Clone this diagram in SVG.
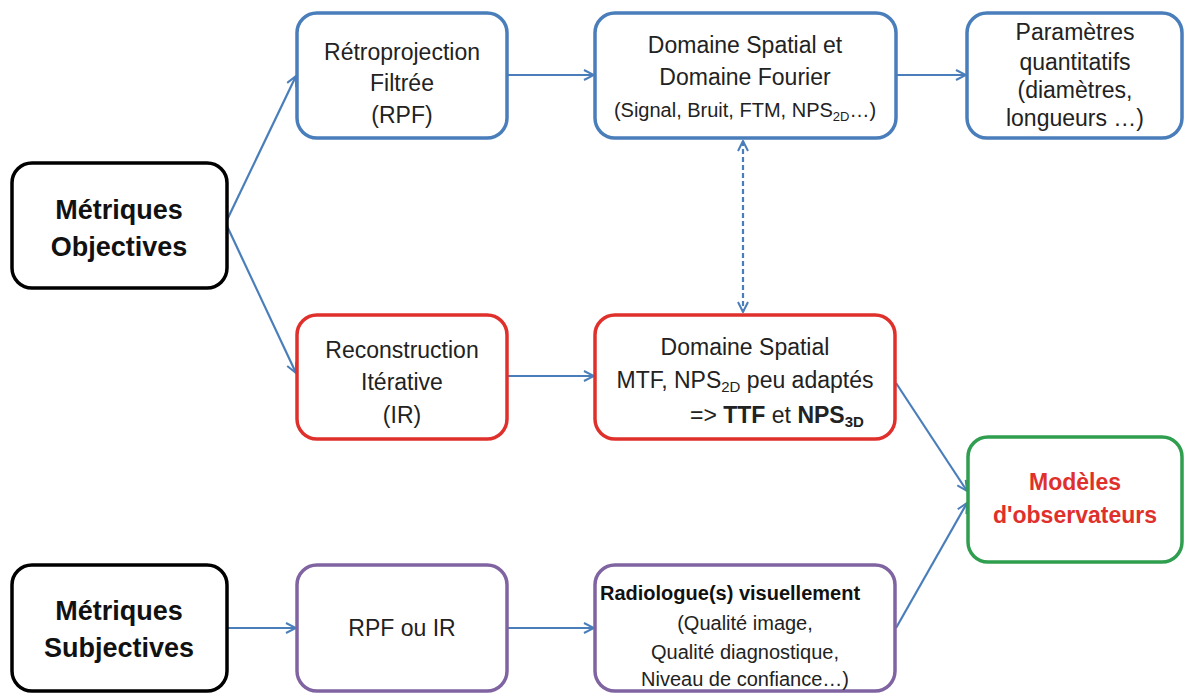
<svg xmlns="http://www.w3.org/2000/svg" width="1192" height="695" viewBox="0 0 1192 695">
<defs>
<style>
.box{fill:#fff;stroke-width:3.5}
.b{stroke:#4a7ebb}
.r{stroke:#e0302c}
.p{stroke:#8064a2}
.g{stroke:#2f9e4f}
.k{stroke:#000}
text{font-family:"Liberation Sans",Arial,sans-serif;fill:#222;text-anchor:middle}
text.st{text-anchor:start}
.t{font-size:23px}
.s{font-size:20px}
.big{font-size:27px;font-weight:bold;fill:#111}
.mod{font-size:23px;font-weight:bold;fill:#e0302c}
.rad{font-size:20px;font-weight:bold;fill:#111}
.con{stroke:#4a7ebb;stroke-width:2.2;fill:none}
</style>
<marker id="ah" viewBox="0 0 12 12" refX="11" refY="6" markerWidth="12" markerHeight="12" markerUnits="userSpaceOnUse" orient="auto-start-reverse">
<path d="M1,1 L11,6 L1,11" fill="none" stroke="#4a7ebb" stroke-width="2"/>
</marker>
</defs>
<rect width="1192" height="695" fill="#fff"/>

<g id="connectors">
<line class="con" x1="227" y1="220" x2="296" y2="76" marker-end="url(#ah)"/>
<line class="con" x1="227" y1="226" x2="296" y2="373" marker-end="url(#ah)"/>
<line class="con" x1="508" y1="75" x2="594" y2="75" marker-end="url(#ah)"/>
<line class="con" x1="897" y1="75" x2="966" y2="75" marker-end="url(#ah)"/>
<line class="con" x1="508" y1="376" x2="594" y2="376" marker-end="url(#ah)"/>
<line class="con" x1="743" y1="141" x2="743" y2="312" stroke-width="3" stroke-dasharray="5,3" marker-start="url(#ah)" marker-end="url(#ah)"/>
<line class="con" x1="896" y1="383" x2="967" y2="491" marker-end="url(#ah)"/>
<line class="con" x1="896" y1="628" x2="967" y2="503" marker-end="url(#ah)"/>
<line class="con" x1="228" y1="628" x2="296" y2="628" marker-end="url(#ah)"/>
<line class="con" x1="508" y1="628" x2="594" y2="628" marker-end="url(#ah)"/>
</g>

<g id="obj">
<rect class="box k" x="12" y="163" width="215" height="125" rx="20"/>
<text class="big" x="119" y="219">Métriques</text>
<text class="big" x="119" y="256">Objectives</text>
</g>

<g id="rpf">
<rect class="box b" x="297" y="13" width="210" height="125" rx="20"/>
<text class="t" x="402" y="60">Rétroprojection</text>
<text class="t" x="402" y="91">Filtrée</text>
<text class="t" x="402" y="123">(RPF)</text>
</g>

<g id="domaine1">
<rect class="box b" x="595" y="13" width="301" height="125" rx="20"/>
<text class="t" x="745" y="53">Domaine Spatial et</text>
<text class="t" x="745" y="85">Domaine Fourier</text>
<text class="s" x="745" y="117">(Signal, Bruit, FTM, NPS<tspan font-size="13" dy="4">2D</tspan><tspan dy="-4">…)</tspan></text>
</g>

<g id="params">
<rect class="box b" x="967" y="13" width="215" height="125" rx="20"/>
<text class="t" x="1075" y="40">Paramètres</text>
<text class="t" x="1075" y="70">quantitatifs</text>
<text class="t" x="1075" y="98">(diamètres,</text>
<text class="t" x="1075" y="126">longueurs …)</text>
</g>

<g id="ir">
<rect class="box r" x="297" y="315" width="210" height="124" rx="20"/>
<text class="t" x="402" y="358">Reconstruction</text>
<text class="t" x="402" y="390">Itérative</text>
<text class="t" x="402" y="423">(IR)</text>
</g>

<g id="domaine2">
<rect class="box r" x="595" y="315" width="300" height="124" rx="20"/>
<text class="t" x="745" y="355">Domaine Spatial</text>
<text class="t" x="745" y="388">MTF, NPS<tspan font-size="15" dy="4">2D</tspan><tspan dy="-4"> peu adaptés</tspan></text>
<text class="t st" x="690" y="423">=&gt; <tspan font-weight="bold">TTF</tspan> et <tspan font-weight="bold">NPS</tspan><tspan font-weight="bold" font-size="15" dy="4">3D</tspan></text>
</g>

<g id="modeles">
<rect class="box g" x="968" y="437" width="214" height="125" rx="20"/>
<text class="mod" x="1075" y="490">Modèles</text>
<text class="mod" x="1075" y="523">d'observateurs</text>
</g>

<g id="subj">
<rect class="box k" x="12" y="565" width="215" height="126" rx="20"/>
<text class="big" x="119" y="620">Métriques</text>
<text class="big" x="119" y="657">Subjectives</text>
</g>

<g id="rpfir">
<rect class="box p" x="297" y="565" width="210" height="126" rx="20"/>
<text class="t" x="402" y="636">RPF ou IR</text>
</g>

<g id="radio">
<rect class="box p" x="595" y="565" width="300" height="126" rx="20"/>
<text class="rad st" x="600" y="600">Radiologue(s) visuellement</text>
<text class="s" x="745" y="630">(Qualité image,</text>
<text class="s" x="745" y="659">Qualité diagnostique,</text>
<text class="s" x="745" y="686">Niveau de confiance…)</text>
</g>
</svg>
